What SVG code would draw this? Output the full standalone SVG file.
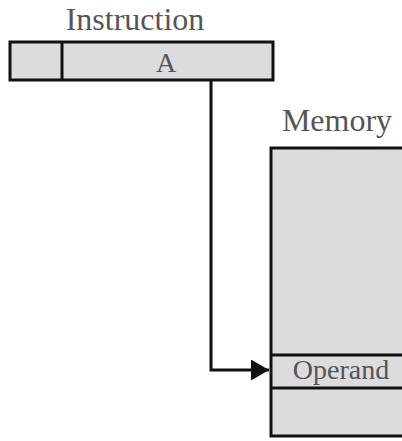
<svg xmlns="http://www.w3.org/2000/svg" width="402" height="441" viewBox="0 0 402 441">
<style>
.box{fill:#dcdcde;stroke:#111;stroke-width:3}
.ln{stroke:#111;stroke-width:3;fill:none}
.t{font-family:"Liberation Serif",serif;fill:#555}
</style>
<defs>
<marker id="ah" markerWidth="6" markerHeight="7" refX="6" refY="3.5" orient="auto" markerUnits="strokeWidth">
<path d="M0,0 L6,3.5 L0,7 Z" fill="#111"/>
</marker>
</defs>
<rect width="402" height="441" fill="#fff"/>
<g id="instruction">
<text class="t" x="135" y="30" font-size="32" text-anchor="middle">Instruction</text>
<rect class="box" x="10" y="42" width="263" height="38"/>
<line class="ln" x1="62" y1="42" x2="62" y2="80"/>
<text class="t" x="166" y="72" font-size="28" text-anchor="middle">A</text>
</g>
<g id="memory">
<text class="t" x="337" y="131" font-size="32" text-anchor="middle">Memory</text>
<rect class="box" x="271" y="148" width="140" height="288"/>
<line class="ln" x1="271" y1="355" x2="402" y2="355"/>
<line class="ln" x1="271" y1="388" x2="402" y2="388"/>
<text class="t" x="341" y="379" font-size="28" text-anchor="middle">Operand</text>
</g>
<g id="connectors">
<polyline class="ln" points="211,80 211,370 269,370" marker-end="url(#ah)"/>
</g>
</svg>
